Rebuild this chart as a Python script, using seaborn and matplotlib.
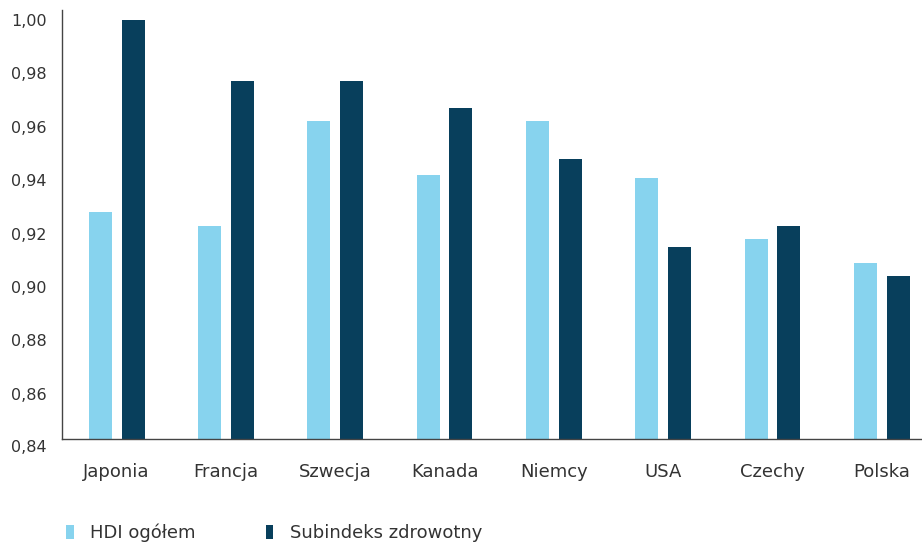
import matplotlib
matplotlib.use("Agg")
import matplotlib.pyplot as plt
import matplotlib.transforms as mtransforms
from matplotlib.patches import Patch
import seaborn as sns
import pandas as pd

# Data
kraje = ['Japonia', 'Francja', 'Szwecja', 'Kanada', 'Niemcy', 'USA', 'Czechy', 'Polska']
hdi_ogolem = [0.928, 0.923, 0.962, 0.942, 0.962, 0.941, 0.918, 0.909]
subindeks_zdrowotny = [1.000, 0.977, 0.977, 0.967, 0.948, 0.915, 0.923, 0.904]
serie = ['HDI ogółem', 'Subindeks zdrowotny']
y_ticks = [0.84, 0.86, 0.88, 0.90, 0.92, 0.94, 0.96, 0.98, 1.00]
y_labels = ['0,84', '0,86', '0,88', '0,90', '0,92', '0,94', '0,96', '0,98', '1,00']

kolory = ['#87D3EE', '#083F5C']
tekst = '#333333'

df = pd.DataFrame({
    'kraj': kraje * 2,
    'wartosc': hdi_ogolem + subindeks_zdrowotny,
    'seria': [serie[0]] * len(kraje) + [serie[1]] * len(kraje),
})

sns.set_style('white')
plt.rcParams['font.family'] = ['DejaVu Sans']

fig = plt.figure(figsize=(9.22, 5.42), dpi=100)
ax = fig.add_axes([62 / 922, 1 - 439 / 542, 1 - 62 / 922, 429 / 542])

sns.barplot(data=df, x='kraj', y='wartosc', hue='seria', palette=kolory,
            width=0.6, gap=0.3, saturation=1, linewidth=0, legend=False, ax=ax)

ax.set_xlim(-0.5, 7.368)
ax.set_ylim(0.84307, 1.00375)
ax.set_xlabel('')
ax.set_ylabel('')

# y ticks (0,84 sits just below the axis, drawn as text)
ax.set_yticks(y_ticks[1:])
ax.set_yticklabels(y_labels[1:])
ax.tick_params(axis='y', length=0, pad=11, labelsize=11.5, labelcolor=tekst)
ax.tick_params(axis='x', length=0, pad=17, labelsize=13, labelcolor=tekst)
off = mtransforms.ScaledTranslation(-11 / 72, 0, fig.dpi_scale_trans)
ax.text(0, y_ticks[0], y_labels[0], transform=ax.get_yaxis_transform() + off,
        ha='right', va='center', fontsize=11.5, color=tekst, clip_on=False)

for side in ['top', 'right']:
    ax.spines[side].set_visible(False)
for side in ['left', 'bottom']:
    ax.spines[side].set_color('#444444')
    ax.spines[side].set_linewidth(1)

handles = [Patch(facecolor=c, edgecolor='none') for c in kolory]
fig.legend(handles, serie, loc='center left', bbox_to_anchor=(66 / 922, 1 - 533 / 542),
           ncol=2, frameon=False, fontsize=13, labelcolor=tekst,
           handlelength=0.42, handleheight=0.85, handletextpad=0.9,
           columnspacing=3.9, borderpad=0, borderaxespad=0)

fig.savefig('out.png', dpi=100)
